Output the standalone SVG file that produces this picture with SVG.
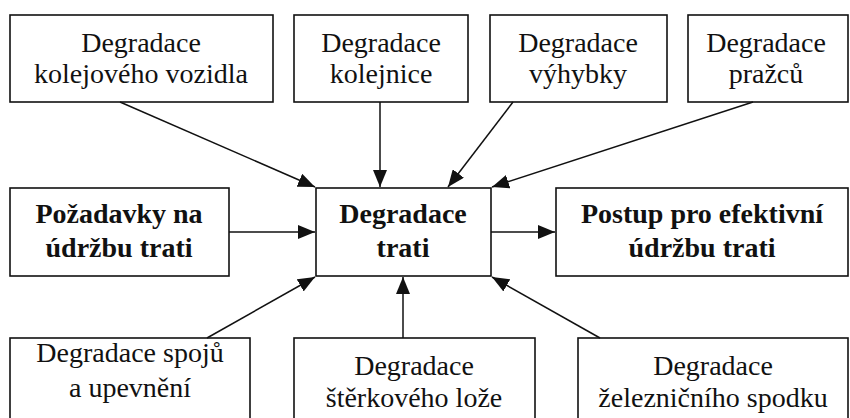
<svg xmlns="http://www.w3.org/2000/svg" width="850" height="418" viewBox="0 0 850 418">
<style>
.box{fill:#fff;stroke:#111;stroke-width:1.6}
.t{font-family:'Liberation Serif','DejaVu Serif','Times New Roman',serif;font-size:28px;fill:#111;text-anchor:middle}
.b{font-weight:bold}
.c{stroke:#111;stroke-width:1.5;fill:none}
</style>
<defs>
<marker id="ah" markerUnits="userSpaceOnUse" markerWidth="18" markerHeight="14" refX="17" refY="7" orient="auto">
<path d="M0,0 L17,7 L0,14 Z" fill="#111"/>
</marker>
</defs>
<rect width="850" height="418" fill="#fff"/>
<g id="n1"><rect class="box" x="10" y="15" width="263" height="87"/>
<text class="t" font-family="Liberation Serif, serif" x="141" y="52">Degradace</text><text class="t" font-family="Liberation Serif, serif" x="141" y="83">kolejového vozidla</text></g>
<g id="n2"><rect class="box" x="294" y="15" width="174" height="87"/>
<text class="t" x="381" y="52">Degradace</text><text class="t" x="381" y="83">kolejnice</text></g>
<g id="n3"><rect class="box" x="490" y="15" width="177" height="87"/>
<text class="t" x="578" y="52">Degradace</text><text class="t" x="578" y="83">výhybky</text></g>
<g id="n4"><rect class="box" x="688" y="15" width="160" height="87"/>
<text class="t" x="766" y="52">Degradace</text><text class="t" x="766" y="83">pražců</text></g>
<g id="n5"><rect class="box" x="10" y="188" width="219" height="88"/>
<text class="t b" x="119" y="223">Požadavky na</text><text class="t b" x="119" y="257">údržbu trati</text></g>
<g id="n6"><rect class="box" x="316" y="188" width="175" height="88"/>
<text class="t b" x="403" y="223">Degradace</text><text class="t b" x="403" y="257">trati</text></g>
<g id="n7"><rect class="box" x="556" y="188" width="292" height="88"/>
<text class="t b" x="702" y="223">Postup pro efektivní</text><text class="t b" x="702" y="257">údržbu trati</text></g>
<g id="n8"><rect class="box" x="10" y="338" width="240" height="90"/>
<text class="t" x="130" y="362">Degradace spojů</text><text class="t" x="130" y="397">a upevnění</text></g>
<g id="n9"><rect class="box" x="294" y="338" width="241" height="90"/>
<text class="t" x="414" y="375">Degradace</text><text class="t" x="414" y="407">štěrkového lože</text></g>
<g id="n10"><rect class="box" x="578" y="338" width="270" height="90"/>
<text class="t" x="713" y="375">Degradace</text><text class="t" x="713" y="407">železničního spodku</text></g>
<g id="connectors">
<line class="c" x1="120" y1="102" x2="315" y2="187" marker-end="url(#ah)"/>
<line class="c" x1="380" y1="102" x2="380" y2="187" marker-end="url(#ah)"/>
<line class="c" x1="513" y1="102" x2="448" y2="187" marker-end="url(#ah)"/>
<line class="c" x1="753" y1="102" x2="492" y2="187" marker-end="url(#ah)"/>
<line class="c" x1="229" y1="232" x2="315" y2="232" marker-end="url(#ah)"/>
<line class="c" x1="491" y1="232" x2="555" y2="232" marker-end="url(#ah)"/>
<line class="c" x1="207" y1="338" x2="315" y2="277" marker-end="url(#ah)"/>
<line class="c" x1="403" y1="338" x2="403" y2="277" marker-end="url(#ah)"/>
<line class="c" x1="600" y1="338" x2="492" y2="277" marker-end="url(#ah)"/>
</g>
</svg>
